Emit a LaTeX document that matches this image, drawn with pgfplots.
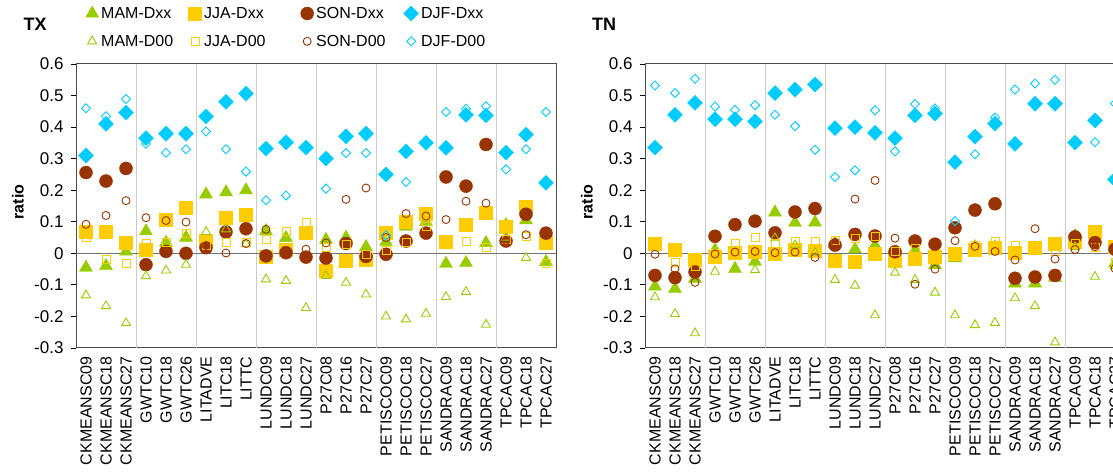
\documentclass[border=0pt]{standalone}
\usepackage{fontspec}
\setmainfont{Liberation Sans}
\usepackage{pgfplots}
\usepackage{pgfplotstable}
\pgfplotsset{compat=1.18}

\definecolor{mam}{RGB}{153,204,0}
\definecolor{jja}{RGB}{255,204,0}
\definecolor{son}{RGB}{153,51,0}
\definecolor{djf}{RGB}{0,204,255}
\newcommand\fs{\fontsize{16}{19}\selectfont}

% idx MAM/JJA/SON/DJF for Dxx then D00
\pgfplotstableread{
idx MAMx JJAx SONx DJFx MAM0 JJA0 SON0 DJF0
0 -0.045 0.070 0.256 0.310 -0.133 0.049 0.092 0.460
1 -0.040 0.068 0.229 0.410 -0.167 -0.018 0.120 0.434
2 0.006 0.034 0.269 0.446 -0.221 -0.033 0.167 0.489
3 0.070 0.010 -0.036 0.365 -0.072 0.030 0.113 0.347
4 0.034 0.107 0.006 0.379 -0.054 0.033 0.104 0.319
5 0.050 0.145 0.000 0.379 -0.036 0.064 0.099 0.330
6 0.187 0.039 0.018 0.434 0.068 0.025 0.025 0.386
7 0.194 0.112 0.068 0.480 0.076 0.033 0.001 0.330
8 0.200 0.124 0.078 0.506 0.029 0.036 0.031 0.259
9 0.071 -0.010 -0.008 0.332 -0.082 0.044 0.076 0.168
10 0.049 0.012 0.002 0.352 -0.087 0.070 0.005 0.183
11 0.060 0.064 -0.012 0.335 -0.173 0.099 0.013 0.340
12 0.043 -0.054 -0.015 0.300 -0.071 0.020 0.033 0.205
13 0.050 -0.022 0.031 0.371 -0.093 0.029 0.171 0.318
14 0.020 -0.019 -0.010 0.379 -0.130 -0.005 0.207 0.318
15 0.036 0.064 -0.003 0.250 -0.200 0.010 0.050 0.057
16 0.085 0.099 0.039 0.323 -0.209 0.033 0.126 0.226
17 0.100 0.126 0.064 0.350 -0.191 0.086 0.118 0.350
18 -0.033 0.036 0.242 0.334 -0.138 0.035 0.107 0.448
19 -0.030 0.092 0.213 0.439 -0.122 0.039 0.165 0.458
20 0.033 0.129 0.345 0.437 -0.226 0.020 0.159 0.466
21 0.090 0.083 0.039 0.319 0.050 0.043 0.041 0.266
22 0.105 0.149 0.124 0.376 -0.014 0.052 0.059 0.330
23 -0.027 0.033 0.064 0.223 -0.030 -0.033 0.060 0.448
}\tx

\pgfplotstableread{
idx MAMx JJAx SONx DJFx MAM0 JJA0 SON0 DJF0
0 -0.105 0.032 -0.070 0.335 -0.139 0.035 -0.003 0.532
1 -0.112 0.010 -0.077 0.439 -0.192 -0.029 -0.049 0.508
2 -0.080 -0.021 -0.059 0.477 -0.253 -0.040 -0.092 0.553
3 0.010 -0.010 0.054 0.425 -0.058 0.000 -0.002 0.465
4 -0.049 0.001 0.091 0.425 -0.045 0.032 0.004 0.454
5 -0.026 0.004 0.102 0.418 -0.053 0.050 0.006 0.469
6 0.130 0.000 0.065 0.508 0.048 0.030 0.002 0.439
7 0.097 0.010 0.131 0.519 0.026 0.039 0.004 0.403
8 0.098 0.007 0.142 0.535 0.002 0.039 -0.013 0.328
9 0.030 -0.023 0.026 0.397 -0.084 0.042 0.035 0.242
10 0.013 -0.028 0.060 0.400 -0.102 0.048 0.172 0.263
11 0.025 0.000 0.055 0.382 -0.196 0.055 0.231 0.453
12 -0.010 -0.023 0.005 0.365 -0.061 0.005 0.048 0.323
13 0.010 -0.016 0.039 0.437 -0.084 0.014 -0.098 0.473
14 -0.037 -0.010 0.029 0.443 -0.124 -0.010 -0.050 0.459
15 -0.015 0.000 0.081 0.289 -0.196 0.000 0.040 0.102
16 0.020 0.010 0.137 0.370 -0.227 0.026 0.022 0.314
17 0.020 0.017 0.157 0.411 -0.220 0.038 0.006 0.430
18 -0.095 0.002 -0.079 0.347 -0.142 0.026 -0.021 0.519
19 -0.095 0.018 -0.075 0.474 -0.167 0.018 0.078 0.538
20 -0.077 0.029 -0.070 0.474 -0.282 0.007 -0.018 0.550
21 0.055 0.037 0.052 0.351 0.020 0.030 0.012 0.350
22 0.060 0.068 0.034 0.421 -0.074 0.019 0.021 0.352
23 -0.032 0.020 0.013 0.234 -0.040 -0.030 -0.048 0.475
}\tn

\pgfplotsset{
  mamx/.style={only marks, color=mam, mark=triangle*, mark size=7.5pt},
  jjax/.style={only marks, color=jja, mark=square*, mark size=6.5pt},
  sonx/.style={only marks, color=son, mark=*, mark size=6.5pt},
  djfx/.style={only marks, color=djf, mark=square*, mark size=5.3pt, mark options={rotate=45}},
  mam0/.style={only marks, color=mam, mark=triangle, mark size=5.2pt, mark options={line width=0.9pt}},
  jja0/.style={only marks, color=jja, mark=square, mark size=4pt, mark options={line width=0.9pt}},
  son0/.style={only marks, color=son, mark=o, mark size=4pt, mark options={line width=0.9pt}},
  djf0/.style={only marks, color=djf, mark=square, mark size=3.2pt, mark options={rotate=45, line width=0.9pt}},
  panel/.style={
    scale only axis, width=480pt, height=284pt,
    xmin=-0.5, xmax=23.5, ymin=-0.3, ymax=0.6,
    xtick={0,...,23},
    xticklabels={CKMEANSC09,CKMEANSC18,CKMEANSC27,GWTC10,GWTC18,GWTC26,LITADVE,LITC18,LITTC,LUNDC09,LUNDC18,LUNDC27,P27C08,P27C16,P27C27,PETISCOC09,PETISCOC18,PETISCOC27,SANDRAC09,SANDRAC18,SANDRAC27,TPCAC09,TPCAC18,TPCAC27},
    xticklabel style={rotate=90, anchor=east, font=\fs},
    x tick style={draw=none},
    ytick={-0.3,-0.2,-0.1,0,0.1,0.2,0.3,0.4,0.5,0.6},
    yticklabels={-0.3,-0.2,-0.1,0,0.1,0.2,0.3,0.4,0.5,0.6},
    yticklabel style={font=\fontsize{17}{19}\selectfont, xshift=-4pt},
    ytick pos=left, tick align=outside, major tick length=5pt,
    y tick style={black, line width=0.8pt},
    axis line style={draw=black!70, line width=1pt},
    extra x ticks={2.5,5.5,8.5,11.5,14.5,17.5,20.5},
    extra x tick labels={},
    extra x tick style={grid=major, major grid style={draw=black!20, line width=0.8pt}, major tick length=0pt},
    extra y ticks={0}, extra y tick labels={},
    extra y tick style={grid=major, major grid style={draw=black!55, line width=1.2pt}},
    ylabel={\textbf{ratio}},
    ylabel style={at={(axis description cs:-0.121,0.514)}, anchor=center, font=\fs},
    title style={at={(axis description cs:-0.085,1.12)}, anchor=center, font=\bfseries\fontsize{18}{20}\selectfont},
    clip=false,
  },
}

\begin{document}
\begin{tikzpicture}[font=\fs]
\begin{axis}[panel, at={(76pt,125pt)}, anchor=south west, title={TX},
  legend columns=4,
  legend image code/.code={\draw[mark repeat=2,mark phase=2,#1] plot coordinates {(-5pt,0pt) (0pt,0pt) (5pt,0pt)};},
  legend style={at={(axis description cs:0.0198,1.205)}, anchor=north west,
    draw=none, fill=none, inner sep=0pt, column sep=2.5pt, row sep=14pt,
    nodes={inner sep=0pt, anchor=west, font=\fs}},
]
\addplot[mamx] table[x=idx, y=MAMx] {\tx}; \addlegendentry{\makebox[85pt][l]{MAM-Dxx}}
\addplot[jjax] table[x=idx, y=JJAx] {\tx}; \addlegendentry{\makebox[94pt][l]{JJA-Dxx}}
\addplot[sonx] table[x=idx, y=SONx] {\tx}; \addlegendentry{\makebox[85pt][l]{SON-Dxx}}
\addplot[djfx] table[x=idx, y=DJFx] {\tx}; \addlegendentry{DJF-Dxx}
\addplot[mam0] table[x=idx, y=MAM0] {\tx}; \addlegendentry{\makebox[85pt][l]{MAM-D00}}
\addplot[jja0] table[x=idx, y=JJA0] {\tx}; \addlegendentry{\makebox[94pt][l]{JJA-D00}}
\addplot[son0] table[x=idx, y=SON0] {\tx}; \addlegendentry{\makebox[85pt][l]{SON-D00}}
\addplot[djf0] table[x=idx, y=DJF0] {\tx}; \addlegendentry{DJF-D00}
\end{axis}
\begin{axis}[panel, at={(645pt,125pt)}, anchor=south west, title={TN}]
\addplot[mamx] table[x=idx, y=MAMx] {\tn};
\addplot[jjax] table[x=idx, y=JJAx] {\tn};
\addplot[sonx] table[x=idx, y=SONx] {\tn};
\addplot[djfx] table[x=idx, y=DJFx] {\tn};
\addplot[mam0] table[x=idx, y=MAM0] {\tn};
\addplot[jja0] table[x=idx, y=JJA0] {\tn};
\addplot[son0] table[x=idx, y=SON0] {\tn};
\addplot[djf0] table[x=idx, y=DJF0] {\tn};
\end{axis}
\pgfresetboundingbox
\useasboundingbox (0pt,0pt) rectangle (1113pt,473pt);
\end{tikzpicture}
\end{document}
